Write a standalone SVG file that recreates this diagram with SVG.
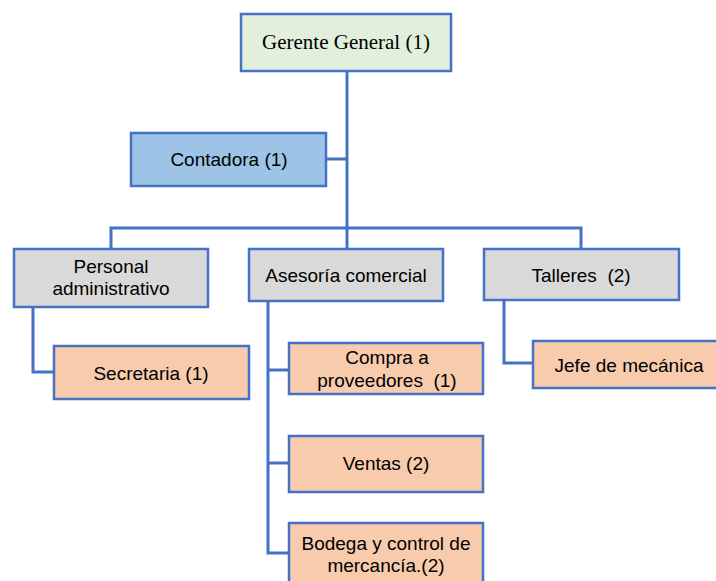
<svg xmlns="http://www.w3.org/2000/svg" width="716" height="581" viewBox="0 0 716 581">
<style>
.box{stroke:#4472C4;stroke-width:2.5}
.g{fill:#E2EFDA}.b{fill:#9DC3E6}.n{fill:#D9D9D9}.o{fill:#F8CBAD}
.t{font-family:"Liberation Sans",Arial,sans-serif;font-size:19px;fill:#000;text-anchor:middle}
.s{font-family:"Liberation Serif","Times New Roman",serif;font-size:21px;fill:#000;text-anchor:middle}
.c{fill:none;stroke:#4472C4;stroke-width:3}
</style>
<rect width="716" height="581" fill="#fff"/>
<g id="connectors">
<path class="c" d="M347 71 V228"/>
<path class="c" d="M326 159 H347"/>
<path class="c" d="M111 249 V228 H581 V249"/>
<path class="c" d="M347 228 V249"/>
<path class="c" d="M33 307 V372 H54"/>
<path class="c" d="M268 301 V553 H289"/>
<path class="c" d="M268 370 H289"/>
<path class="c" d="M268 463 H289"/>
<path class="c" d="M504 300 V363 H533"/>
</g>
<g id="gerente"><rect class="box g" x="241" y="14" width="210" height="57"/><text class="s" x="346" y="49">Gerente General (1)</text></g>
<g id="contadora"><rect class="box b" x="131" y="133" width="195" height="53"/><text class="t" x="229" y="166">Contadora (1)</text></g>
<g id="personal"><rect class="box n" x="14" y="249" width="194" height="58"/><text class="t" x="111" y="273">Personal</text><text class="t" x="111" y="295">administrativo</text></g>
<g id="asesoria"><rect class="box n" x="249" y="249" width="194" height="52"/><text class="t" x="346" y="282">Asesoría comercial</text></g>
<g id="talleres"><rect class="box n" x="484" y="249" width="195" height="51"/><text class="t" x="581" y="282" xml:space="preserve">Talleres  (2)</text></g>
<g id="secretaria"><rect class="box o" x="54" y="346" width="195" height="53"/><text class="t" x="151" y="380">Secretaria (1)</text></g>
<g id="compra"><rect class="box o" x="289" y="343" width="194" height="51"/><text class="t" x="387" y="364">Compra a</text><text class="t" x="387" y="387" xml:space="preserve">proveedores  (1)</text></g>
<g id="jefe"><rect class="box o" x="533" y="341" width="195" height="47"/><text class="t" x="629" y="372">Jefe de mecánica</text></g>
<g id="ventas"><rect class="box o" x="289" y="436" width="194" height="56"/><text class="t" x="386" y="470">Ventas (2)</text></g>
<g id="bodega"><rect class="box o" x="289" y="523" width="194" height="70"/><text class="t" x="386" y="550">Bodega y control de</text><text class="t" x="386" y="572">mercancía.(2)</text></g>
</svg>
